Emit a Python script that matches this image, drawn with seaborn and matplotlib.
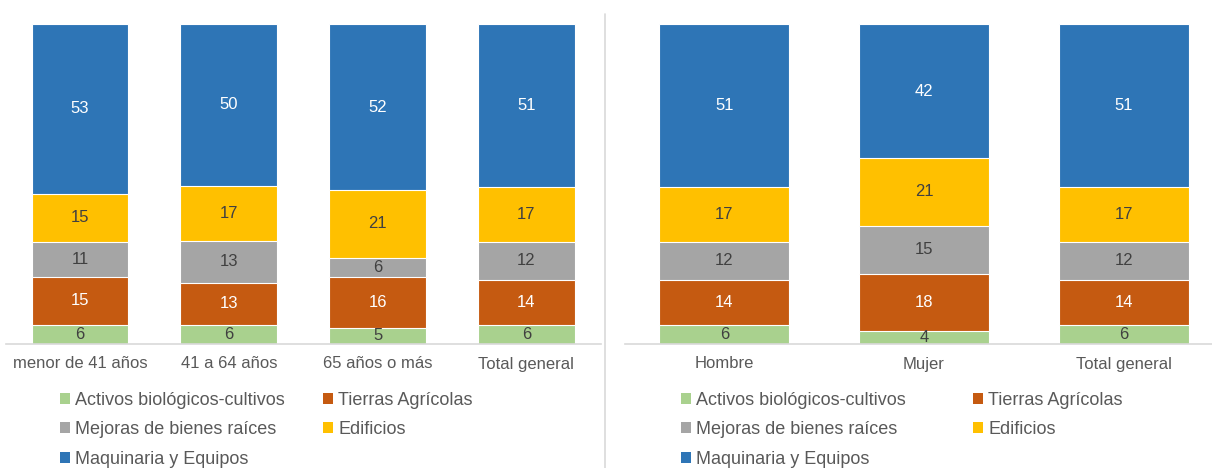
import matplotlib
matplotlib.use("Agg")
import matplotlib.pyplot as plt
from matplotlib.lines import Line2D
from matplotlib.patches import Patch
import numpy as np
import pandas as pd
import seaborn as sns

# Series (stacked bottom to top)
series = ["Activos biológicos-cultivos", "Tierras Agrícolas",
          "Mejoras de bienes raíces", "Edificios", "Maquinaria y Equipos"]
colors = ["#A9D18E", "#C55A11", "#A5A5A5", "#FFC000", "#2E75B6"]
label_colors = ["#404040", "#FFFFFF", "#404040", "#404040", "#FFFFFF"]

# Panel 1: by age group
age_groups = ["menor de 41 años", "41 a 64 años", "65 años o más", "Total general"]
age_activos = [6, 6, 5, 6]
age_tierras = [15, 13, 16, 14]
age_mejoras = [11, 13, 6, 12]
age_edificios = [15, 17, 21, 17]
age_maquinaria = [53, 50, 52, 51]

# Panel 2: by sex
sex_groups = ["Hombre", "Mujer", "Total general"]
sex_activos = [6, 4, 6]
sex_tierras = [14, 18, 14]
sex_mejoras = [12, 15, 12]
sex_edificios = [17, 21, 17]
sex_maquinaria = [51, 42, 51]

sns.set_theme(style="white")
plt.rcParams["font.family"] = ["Liberation Sans", "DejaVu Sans"]

W, H = 1212, 468
fig = plt.figure(figsize=(W / 100, H / 100), dpi=100)
fig.patch.set_facecolor("white")


def stacked_panel(ax, cats, layers):
    vals = np.array(layers, dtype=float)          # shape (series, cats)
    shares = vals / vals.sum(axis=0) * 100        # 100 % stacked
    tops = np.cumsum(shares, axis=0)
    # draw from the top layer downward so each cumulative bar covers the rest
    for i in range(len(series) - 1, -1, -1):
        df = pd.DataFrame({"cat": cats, "top": tops[i]})
        sns.barplot(data=df, x="cat", y="top", color=colors[i], width=0.65,
                    saturation=1, edgecolor="white", linewidth=0.8, ax=ax)
    for i in range(len(series)):
        for j in range(len(cats)):
            mid = tops[i, j] - shares[i, j] / 2
            ax.text(j, mid, f"{int(vals[i, j])}", ha="center", va="center",
                    fontsize=12, color=label_colors[i])
    ax.set_ylim(0, 100)
    ax.set_xlim(-0.5, len(cats) - 0.5)
    ax.set_xlabel("")
    ax.set_ylabel("")
    ax.set_yticks([])
    for s in ["top", "left", "right"]:
        ax.spines[s].set_visible(False)
    ax.spines["bottom"].set_color("#D9D9D9")
    ax.spines["bottom"].set_linewidth(1.2)
    ax.tick_params(axis="x", length=0, pad=9, labelsize=12, labelcolor="#595959")
    ax.patch.set_alpha(0)


bottom = (H - 344) / H
height = 320 / H
ax1 = fig.add_axes([5.7 / W, bottom, 595 / W, height])
ax2 = fig.add_axes([624.5 / W, bottom, 599 / W, height])

stacked_panel(ax1, age_groups, [age_activos, age_tierras, age_mejoras,
                                age_edificios, age_maquinaria])
stacked_panel(ax2, sex_groups, [sex_activos, sex_tierras, sex_mejoras,
                                sex_edificios, sex_maquinaria])

# divider between the two panels
fig.add_artist(Line2D([604.7 / W, 604.7 / W], [0, (H - 14) / H],
                      color="#D9D9D9", lw=1.2, transform=fig.transFigure))

# legends: row-wise order, two columns
order = [0, 2, 4, 1, 3]
handles = [Patch(facecolor=colors[i], edgecolor="none") for i in order]
labels = [series[i] for i in order]
for x0, colsp in ((60 / W, 2.1), (681 / W, 3.7)):
    fig.legend(handles, labels, ncol=2, loc="upper left",
               bbox_to_anchor=(x0, (H - 392) / H), frameon=False,
               fontsize=13, handlelength=0.55, handleheight=0.55,
               handletextpad=0.3, columnspacing=colsp, labelspacing=0.68,
               borderpad=0, borderaxespad=0, labelcolor="#595959")

fig.savefig("out.png", dpi=100)
